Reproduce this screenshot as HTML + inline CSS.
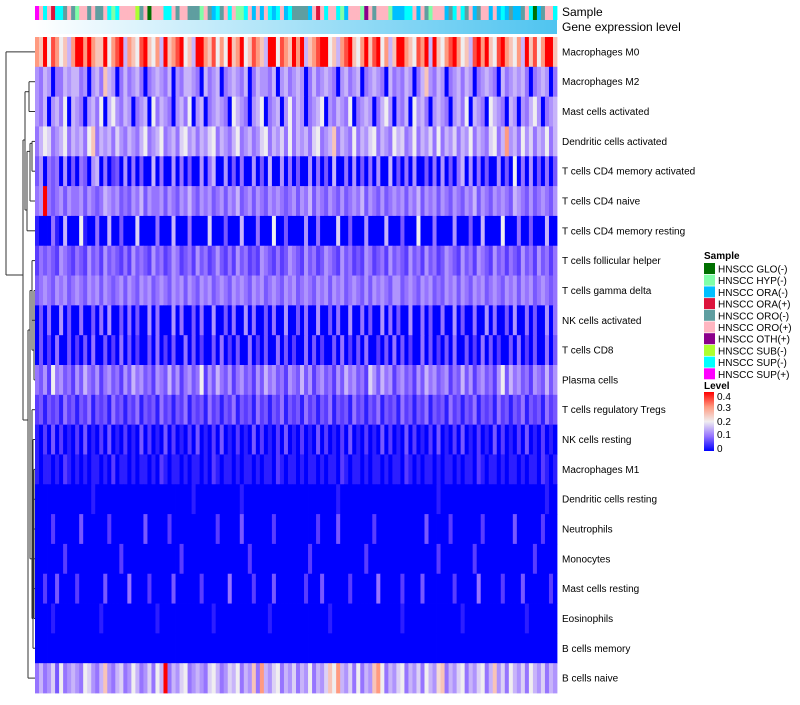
<!DOCTYPE html>
<html><head><meta charset="utf-8"><style>
body{margin:0;background:#fff;font-family:"Liberation Sans",sans-serif}
svg text{font-family:"Liberation Sans",sans-serif}
</style></head><body>
<svg id="chart" width="800" height="700" viewBox="0 0 800 700" xmlns="http://www.w3.org/2000/svg">
<defs>
<linearGradient id="gexp" x1="0" x2="1" y1="0" y2="0"><stop offset="0" stop-color="#ffffff"/><stop offset="1" stop-color="#4fc4f0"/></linearGradient>
<linearGradient id="lvl" x1="0" x2="0" y1="1" y2="0"><stop offset="0" stop-color="#0000ff"/><stop offset="0.25" stop-color="#9674ff"/><stop offset="0.5" stop-color="#f0eef0"/><stop offset="0.75" stop-color="#ff9a80"/><stop offset="1" stop-color="#ff0000"/></linearGradient>
</defs>
<g id="cells"></g>
<g id="samplebar"></g>
<rect x="35" y="20" width="522" height="14" fill="url(#gexp)"/>
<text x="562" y="16" font-size="12">Sample</text>
<text x="562" y="31" font-size="12">Gene expression level</text>
<g id="labels" font-size="10" style="white-space:pre"></g>
<g id="dendro" stroke="#333" stroke-width="1" fill="none"></g>
<g id="legend" font-size="10"></g>
<g font-size="10">
<text x="704" y="389" font-weight="bold">Level</text>
<rect x="704" y="392" width="10" height="59" fill="url(#lvl)"/>
<text x="717" y="400">0.4</text><text x="717" y="411">0.3</text><text x="717" y="425">0.2</text><text x="717" y="438">0.1</text><text x="717" y="452">0</text>
</g>
</svg>
<script>
const rowNames=["Macrophages M0","Macrophages M2","Mast cells activated","Dendritic cells activated","T cells CD4 memory activated","T cells CD4 naive","T cells CD4 memory resting","T cells follicular helper","T cells gamma delta","NK cells activated","T cells CD8","Plasma cells","T cells regulatory  Tregs","NK cells resting","Macrophages M1","Dendritic cells resting","Neutrophils","Monocytes","Mast cells resting","Eosinophils","B cells memory","B cells naive"];
const rowValues=[
"cag8ec8a6c ggcgcaag8c eg6ca8ega8 c6gaceg8a6 ggcae8c8ga cg8aeca6gg 8ecagcg6ac egg8a6cega 8cgaeg8c6a ggca8ecg6g a8cegc8a6e gcga8egca8 c6gae8cgga",
"5465044656 6450564a65 0464564045 6546054665 4064560456 5460465546 0564565046 4565405645 6045654064 5465046a54 6504564650 4565406456 5640456504",
"5460564806 5405648068 5465045608 4654056480 5604565408 6540568045 6058465045 6805465480 4565046850 5460856405 6540564806 5408654065 0546850456",
"4687456846 5648a46564 7546546845 6845647856 4657846546 8456457846 5748465647 8456a46548 4657846548 6745846574 8465746584 6547846c56 4857465846",
"3504340503 0430560402 3050403006 0400504030 0504600503 0400503060 0504030050 4030600405 0304050060 3040500304 0503046050 4030050308 0405030403",
"45g4345354 4535434654 5343546354 4535435464 3545345354 6345354354 5434535463 5435435345 4635435345 4535463545 3543543546 3543545436 5435345435",
"1000410600 0810040060 0300070000 4000600040 0007000300 0600040008 0030000500 4000070030 0050000600 0300080004 0000500030 0600008000 4003000600",
"2434325432 4325342534 3242534325 3423542342 5342353242 5342325432 4235432534 2354325342 3254234253 4325342534 2354325342 5432534243 2534253424",
"3454354534 5435453543 4535435453 4543545354 3545345435 4543545345 4354534543 5453545345 4353545435 5345435453 4354535435 4534543545 3545345434",
"0304005030 0400304050 0304030050 4000504003 0400500304 0050400304 0050030400 5003040050 0403005040 3005004030 0400503004 0050400305 0040300504",
"0302040030 2030400302 0403020030 4020300403 0200304020 3004020300 4030200403 0200304020 3040020304 0302004030 2030400302 0403020030 4020300403",
"4352845342 5364352453 4253645342 5436352453 4825364352 4534253645 3425436352 4534253645 3427536452 4534253645 3452436352 4534258364 5342543635",
"2313231423 1324132314 2313241323 1423132413 2314231324 1323142313 2413231423 1324132314 2313241323 1423132413 2314231324 1323142313 2413231423",
"1020302010 2030102030 1020103020 1030201020 3010203010 2010302010 2030102010 3020102030 1020103020 1030201020 3010203010 2010302010 2030102010",
"1011010210 1010110102 0110101101 0210110101 1010210110 1011010110 2101101011 0101102101 1010110101 1021010110 1011010110 2101101011 0101102101",
"0000000000 0000100000 0000000000 0000000001 0000000000 0100000000 0000000000 0000010000 0000000000 0000000000 1000000000 0000000000 0000000100",
"0000200000 0300000020 0000000300 0002000000 0000020000 0300000002 0000000000 2000030000 0000200000 0000000300 0002000000 0200000003 0000002000",
"0000000200 0000000000 0200000000 0000002000 0000000000 0002000000 0000000020 0000000000 0020000000 0000000000 2000000002 0000000000 0000200000",
"0020030000 2000000300 0004000020 0000300000 0200000040 0000200003 0000000200 0300000020 0000040000 0200003000 0000200000 4000002000 0300000020",
"0000100000 0000001000 0000000000 1000000000 0000100000 0000000010 0000000000 0001000000 0000000000 0100000000 0000001000 0000000000 0010000000",
"0000000000 0000000000 0000000000 0000000000 0000000000 0000000000 0000000000 0000000000 0000000000 0000000000 0000000000 0000000000 0000000000",
"4645738456 5487546a54 6745864574 86g4657845 6547864576 8465a4c657 8465746584 657a8c6574 8465ac8465 7846574865 9a46578465 7846a57486 5748657465"
];
const sampleCodes="MPCPRCCOPOHPPOPOOPCHCPPPPSOPGPPPCCPOPPOOOHPOACOPCPHHCPAPAPCACPACOOOOAPRPCPPCHAPPPHTPOPPPHAAACCPAPOHPPPAOCPCOPAOPPAPACAOAAOPCGAOPPCPPP";
const sampleNames=["HNSCC GLO(-)","HNSCC HYP(-)","HNSCC ORA(-)","HNSCC ORA(+)","HNSCC ORO(-)","HNSCC ORO(+)","HNSCC OTH(+)","HNSCC SUB(-)","HNSCC SUP(-)","HNSCC SUP(+)"];
const sampleKeys=["G","H","A","R","O","P","T","S","C","M"];
const sampleColors=["#007000","#80ffa8","#00bfff","#dc143c","#5f9ea0","#ffb6c1","#8b008b","#adff2f","#00ffff","#ff00ff"];

const NS="http://www.w3.org/2000/svg";
const X0=35,X1=557,Y0=37,Y1=693;
const nCol=130,nRow=rowNames.length;
const cw=(X1-X0)/nCol,rh=(Y1-Y0)/nRow;
function xPos(i){return X0+i*cw;}
function yPos(r){return Y0+r*rh;}
function val(ch){return parseInt(ch,36)*0.025;}
const stops=[[0,[0,0,255]],[0.05,[90,60,255]],[0.1,[150,116,255]],[0.15,[200,180,250]],[0.2,[240,238,240]],[0.3,[255,154,128]],[0.4,[255,0,0]]];
function color(v){
  v=Math.max(0,Math.min(0.4,v));
  for(let i=1;i<stops.length;i++){
    if(v<=stops[i][0]){
      const a=stops[i-1],b=stops[i],t=(v-a[0])/(b[0]-a[0]);
      const c=a[1].map((x,j)=>Math.round(x+(b[1][j]-x)*t));
      return `rgb(${c[0]},${c[1]},${c[2]})`;
    }
  }
  return 'rgb(255,0,0)';
}
function mk(tag,attrs,parent){const e=document.createElementNS(NS,tag);for(const k in attrs)e.setAttribute(k,attrs[k]);parent.appendChild(e);return e;}
const cells=document.getElementById('cells');
rowValues.forEach((s,r)=>{
  const str=s.replace(/ /g,'');
  for(let c=0;c<nCol;c++){
    const ch=str[c]||'0';
    const el=mk('rect',{x:xPos(c).toFixed(2),y:yPos(r).toFixed(2),width:(cw+0.4).toFixed(2),height:(rh+0.4).toFixed(2),fill:color(val(ch))},cells);
    
    
  }
});
const sb=document.getElementById('samplebar');
for(let c=0;c<nCol;c++){
  const k=sampleCodes[c]||'P';
  const el=mk('rect',{x:xPos(c).toFixed(2),y:6,width:(cw+0.4).toFixed(2),height:14,fill:sampleColors[sampleKeys.indexOf(k)]},sb);
  
  
}
const lab=document.getElementById('labels');
rowNames.forEach((n,r)=>{
  const t=mk('text',{x:562,y:(yPos(r)+rh/2+3.5).toFixed(1)},lab);
  t.textContent=n;
  
  
});
const lg=document.getElementById('legend');
const tt=mk('text',{x:704,y:259,'font-weight':'bold'},lg);tt.textContent="Sample";


sampleNames.forEach((n,i)=>{
  const y=263+i*11.7;
  const g=mk('g',{},lg);
  
  
  mk('rect',{x:704,y:y,width:11,height:11,fill:sampleColors[i]},g);
  const t=mk('text',{x:718,y:y+9.5},g);t.textContent=n;
});
const cy=r=>yPos(r)+rh/2;
const d=document.getElementById('dendro');
const segs=[
 [6,cy(0),6,275],[6,cy(0),35,cy(0)],[6,275,23,275],
 [23,140,23,420],[23,140,25,140],[23,420,28,420],
 [25,cy(1)+10,25,210],[25,cy(1)+10,29,cy(1)+10],[25,210,27,210],
 [29,cy(1),29,cy(2)],[29,cy(1),35,cy(1)],[29,cy(2),35,cy(2)],
 [27,cy(3)+10,27,cy(6)],[27,cy(6),35,cy(6)],[27,cy(3)+10,30,cy(3)+10],
 [30,cy(3)+2,30,cy(5)],[30,cy(5),35,cy(5)],[30,cy(3)+2,32,cy(3)+2],
 [32,cy(3),32,cy(4)],[32,cy(3),35,cy(3)],[32,cy(4),35,cy(4)],
 [28,330,28,cy(21)],[28,cy(21),35,cy(21)],[28,330,30,330],
 [30,cy(8),30,cy(17)],[30,cy(8),32,cy(8)],[30,cy(17),32,cy(17)],
 [32,cy(7),32,cy(10)],[32,cy(7),35,cy(7)],[32,cy(10),34,cy(10)],[34,cy(8),34,cy(11)],[34,cy(8),35,cy(8)],[34,cy(11),35,cy(11)],[32,cy(9),35,cy(9)],
 [32,cy(12),32,cy(19)],[32,cy(12),35,cy(12)],[32,cy(19),33,cy(19)],[33,cy(13),33,cy(20)],[33,cy(13),35,cy(13)],[33,cy(20),34,cy(20)],
 [34,cy(14),34,cy(19)],[34,cy(14),35,cy(14)],[34,cy(15),35,cy(15)],[34,cy(16),35,cy(16)],[34,cy(17),35,cy(17)],[34,cy(18),35,cy(18)],[34,cy(19),35,cy(19)],[34,cy(20),35,cy(20)]
];
segs.forEach(s=>mk('line',{x1:s[0],y1:s[1].toFixed(1),x2:s[2],y2:s[3].toFixed(1)},d));
</script>
</body></html>
